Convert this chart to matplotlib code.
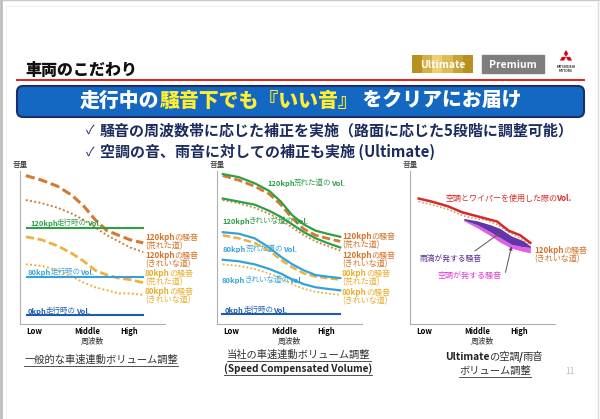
import numpy as np
import matplotlib
matplotlib.use("Agg")
import matplotlib.pyplot as plt
from matplotlib.patches import FancyBboxPatch, Rectangle, Polygon

JP = ["Noto Sans CJK JP", "DejaVu Sans"]
plt.rcParams["font.family"] = JP

# --- data (volume level 0-10 vs frequency 0-10) ---
freq = [0.4, 1.5, 2.6, 3.6, 4.4, 5.2, 6.0, 6.8, 7.6, 8.5]
freq_ticks = [0.95, 4.6, 7.55]
freq_labels = ["Low", "Middle", "High"]
flat_span = [0.5, 8.5]

# chart 1: generic speed-linked volume
c1_noise120_rough = [9.7, 9.4, 9.0, 8.4, 7.7, 6.8, 6.1, 5.8, 5.5, 5.3]
c1_noise120_clean = [8.1, 7.9, 7.6, 7.2, 6.8, 6.3, 5.8, 5.4, 5.0, 4.7]
c1_noise80_rough = [5.7, 5.5, 5.1, 4.6, 4.1, 3.5, 3.2, 3.0, 2.9, 2.7]
c1_noise80_clean = [3.9, 3.8, 3.5, 3.1, 2.7, 2.4, 2.2, 2.0, 2.0, 1.9]
c1_vol = {"120kph": 6.3, "80kph": 3.1, "0kph": 0.6}

# chart 2: speed compensated volume
c2_vol120_rough = [9.8, 9.6, 9.2, 8.7, 8.0, 7.1, 6.5, 6.1, 5.9, 5.7]
c2_noise120_rough = [9.7, 9.4, 9.0, 8.5, 7.8, 6.9, 6.2, 5.8, 5.6, 5.4]
c2_vol120_clean = [8.2, 8.0, 7.8, 7.4, 7.0, 6.5, 6.0, 5.6, 5.3, 5.0]
c2_noise120_clean = [8.1, 7.9, 7.6, 7.2, 6.8, 6.3, 5.8, 5.4, 5.1, 4.8]
c2_vol80_rough = [6.0, 5.9, 5.6, 5.0, 4.4, 3.9, 3.5, 3.2, 3.1, 3.0]
c2_noise80_rough = [5.8, 5.6, 5.3, 4.8, 4.2, 3.7, 3.3, 3.1, 3.0, 2.9]
c2_vol80_clean = [4.2, 4.1, 3.9, 3.6, 3.3, 2.9, 2.6, 2.4, 2.3, 2.2]
c2_noise80_clean = [3.9, 3.8, 3.6, 3.3, 3.0, 2.6, 2.3, 2.1, 2.0, 1.9]
c2_vol0 = 0.65

# chart 3: Ultimate A/C + rain
c3_freq = [0.6, 1.5, 2.6, 3.6, 4.4, 5.2, 6.0, 6.8, 7.6, 8.3]
c3_vol = [8.2, 8.0, 7.7, 7.3, 7.1, 6.9, 6.7, 6.1, 5.8, 5.3]
c3_noise120_clean = [8.0, 7.8, 7.5, 7.1, 6.9, 6.8, 6.5, 6.0, 5.6, 5.2]
band_freq = [3.7, 4.6, 5.5, 6.2, 7.0, 7.8, 8.3]
rain_top = [6.9, 6.75, 6.5, 6.25, 5.75, 5.45, 5.1]
rain_bottom = [6.8, 6.5, 6.05, 5.65, 5.2, 5.05, 5.0]
ac_bottom = [6.75, 6.3, 5.8, 5.35, 4.95, 4.75, 4.65]

ORANGE = "#d8782e"
ORANGE_T = "#d4742a"
GOLD = "#eeb23c"
GOLD_T = "#e8ae30"
GREEN = "#2f9e47"
LBLUE = "#33a2da"
DBLUE = "#1d5cab"
RED = "#d42a2a"
NAVY = "#1c2b5e"

W, H = 600, 419
fig = plt.figure(figsize=(6, 4.19), dpi=100)
fig.patch.set_facecolor("white")


def chart_axes(left):
    ax = fig.add_axes([left / W, (H - 324) / H, 145 / W, 153 / H])
    ax.set_xlim(0, 10)
    ax.set_ylim(0, 10)
    ax.patch.set_alpha(0)
    for s in ["top", "right"]:
        ax.spines[s].set_visible(False)
    for s in ["left", "bottom"]:
        ax.spines[s].set_color("#b0b0b0")
        ax.spines[s].set_linewidth(0.8)
    ax.set_yticks([])
    ax.set_xticks(freq_ticks)
    ax.set_xticklabels(freq_labels, fontsize=5.5, fontweight="bold")
    ax.tick_params(axis="x", length=0, pad=2.5)
    ax.set_xlabel("周波数", fontsize=5.6, labelpad=1, color="#333333")
    ax.text(0, 1.01, "音量", transform=ax.transAxes, ha="center", va="bottom",
            fontsize=5.5, color="#333333")
    return ax


ax1 = chart_axes(20)
ax1.plot(freq, c1_noise120_rough, color=ORANGE, lw=2.2, dashes=(3, 1.3))
ax1.plot(freq, c1_noise120_clean, color="#c9803e", lw=1.4, dashes=(1, 1.2))
ax1.plot(freq, c1_noise80_rough, color=GOLD, lw=2.0, dashes=(3, 1.3))
ax1.plot(freq, c1_noise80_clean, color=GOLD, lw=1.4, dashes=(1, 1.2))
for k, c in zip(c1_vol, [GREEN, LBLUE, DBLUE]):
    ax1.plot(flat_span, [c1_vol[k]] * 2, color=c, lw=1.5)

ax2 = chart_axes(217)
ax2.plot(freq, c2_noise120_rough, color=ORANGE, lw=2.0, dashes=(3, 1.3))
ax2.plot(freq, c2_vol120_rough, color=GREEN, lw=1.6)
ax2.plot(freq, c2_noise120_clean, color="#c9803e", lw=1.3, dashes=(1, 1.2))
ax2.plot(freq, c2_vol120_clean, color=GREEN, lw=1.6)
ax2.plot(freq, c2_noise80_rough, color=GOLD, lw=1.8, dashes=(3, 1.3))
ax2.plot(freq, c2_vol80_rough, color=LBLUE, lw=1.6)
ax2.plot(freq, c2_noise80_clean, color=GOLD, lw=1.3, dashes=(1, 1.2))
ax2.plot(freq, c2_vol80_clean, color=LBLUE, lw=1.6)
ax2.plot([0.35, 8.5], [c2_vol0] * 2, color=DBLUE, lw=1.5)

ax3 = chart_axes(410)
ax3.fill_between(band_freq, ac_bottom, rain_bottom, color="#e25ee6", lw=0)
ax3.fill_between(band_freq, rain_bottom, rain_top, color="#6236a8", lw=0)
ax3.plot(c3_freq, c3_noise120_clean, color="#d9a066", lw=1.2, dashes=(1, 1.2))
ax3.plot(c3_freq, c3_vol, color=RED, lw=1.8)
ax3.annotate("", xy=(band_freq[3], (rain_top[3] + rain_bottom[3]) / 2),
             xytext=(-25, -18), textcoords="offset pixels",
             arrowprops=dict(arrowstyle="-|>", color="#555555", lw=0.7,
                             mutation_scale=5, shrinkA=0, shrinkB=0))
ax3.annotate("", xy=(band_freq[4], (rain_bottom[4] + ac_bottom[4]) / 2),
             xytext=(-6, -26), textcoords="offset pixels",
             arrowprops=dict(arrowstyle="-|>", color="#555555", lw=0.7,
                             mutation_scale=5, shrinkA=0, shrinkB=0))

# overlay for all slide text and decorations (pixel coordinates)
lay = fig.add_axes([0, 0, 1, 1], zorder=5)
lay.set_xlim(0, W)
lay.set_ylim(H, 0)
lay.axis("off")
lay.patch.set_alpha(0)
renderer = fig.canvas.get_renderer()


def rich(x, y, parts, size, ha="left", underline=False, ucolor="#333333", kern=0.5):
    objs = []
    for s, c, w in parts:
        objs.append(lay.text(0, y, s, color=c, fontsize=size, fontweight=w,
                             va="center", ha="left"))
    widths = [t.get_window_extent(renderer).width for t in objs]
    widths = [wd - kern for wd in widths[:-1]] + widths[-1:]
    total = sum(widths)
    x0 = x - total / 2 if ha == "center" else x
    cur = x0
    for t, wd in zip(objs, widths):
        t.set_x(cur)
        cur += wd
    if underline:
        uy = y + size * 100 / 72 * 0.62
        lay.plot([x0, x0 + total], [uy, uy], color=ucolor, lw=0.6)


# slide frame
lay.plot([1, 1], [0, H], color="#bdbdbd", lw=2)
lay.plot([0, W], [0.5, 0.5], color="#c8c8c8", lw=1)
lay.plot([597.5, 597.5], [0, H], color="#dddddd", lw=1)
lay.plot([6, 6], [6, H], color="#eeeeee", lw=0.6)
lay.plot([6, 592], [6, 6], color="#eeeeee", lw=0.6)

# header
lay.text(25, 70, "車両のこだわり", fontsize=11.5, fontweight="heavy", va="center", color="#111111")
lay.plot([17, 584], [80, 80], color="#e0201a", lw=1.4)

# badges
grad = np.array([[0.0, 0.5, 1.0, 0.7, 0.3, 0.0]])
lay.imshow(grad, extent=(412, 473, 73, 55), aspect="auto", zorder=1,
           cmap=matplotlib.colors.LinearSegmentedColormap.from_list("g", ["#b8901f", "#ecd070"]))
lay.text(442.5, 64.5, "Ultimate", color="white", fontsize=7.5, fontweight="bold",
         ha="center", va="center", zorder=2)
lay.add_patch(Rectangle((482, 55), 62, 18, color="#7e7e7e", zorder=1))
lay.text(513, 64.5, "Premium", color="white", fontsize=7.5, fontweight="bold",
         ha="center", va="center", zorder=2)

# logo: three diamonds
cx, cy = 566, 57
for ang in [90, 210, 330]:
    a = np.deg2rad(ang)
    d = np.array([np.cos(a), -np.sin(a)])
    n = np.array([-d[1], d[0]])
    pts = [(cx, cy), (cx + d[0] * 3.5 + n[0] * 2.2, cy + d[1] * 3.5 + n[1] * 2.2),
           (cx + d[0] * 7, cy + d[1] * 7),
           (cx + d[0] * 3.5 - n[0] * 2.2, cy + d[1] * 3.5 - n[1] * 2.2)]
    lay.add_patch(Polygon(pts, closed=True, color="#e60012", lw=0))
lay.text(566, 67.5, "MITSUBISHI", fontsize=2.4, ha="center", va="center", fontweight="bold", color="#333333")
lay.text(566, 70.5, "MOTORS", fontsize=2.4, ha="center", va="center", fontweight="bold", color="#333333")

# banner
lay.add_patch(FancyBboxPatch((17, 86), 567, 31, boxstyle="round,pad=0,rounding_size=6",
                             facecolor="#1468c2", edgecolor="#1b2d6b", lw=1.5))
rich(301, 101, [("走行中の", "white", "heavy"), ("騒音下でも『いい音』", "#ffee33", "heavy"),
                (" をクリアにお届け", "white", "heavy")], 14.3, ha="center", kern=0)

# bullets
lay.text(86, 130, "✓", fontsize=9, color=NAVY, va="center", family=JP)
lay.text(100, 130, "騒音の周波数帯に応じた補正を実施（路面に応じた5段階に調整可能）",
         fontsize=10.8, fontweight="bold", color=NAVY, va="center")
lay.text(86, 152, "✓", fontsize=9, color=NAVY, va="center", family=JP)
lay.text(100, 152, "空調の音、雨音に対しての補正も実施 (Ultimate)",
         fontsize=10.8, fontweight="bold", color=NAVY, va="center")

# chart 1 labels
LS = 5.4
rich(30, 223, [("120kph", GREEN, "bold"), ("走行時の", GREEN, "normal"), ("Vol.", GREEN, "bold")], LS)
rich(28, 272, [("80kph", LBLUE, "bold"), ("走行時の", LBLUE, "normal"), ("Vol.", LBLUE, "bold")], LS)
rich(28, 311, [("0kph", DBLUE, "bold"), ("走行時の", DBLUE, "normal"), ("Vol.", DBLUE, "bold")], LS)

RS = 5.8
right_rows = [("120kph", ORANGE_T, "(荒れた道)"), ("120kph", ORANGE_T, "(きれいな道)"),
              ("80kph", GOLD_T, "(荒れた道)"), ("80kph", GOLD_T, "(きれいな道)")]
for xr, ys in [(145, [237, 255, 273, 291]), (342, [236, 255, 273, 292])]:
    for (sp, col, road), yy in zip(right_rows, ys):
        rich(xr, yy, [(sp, col, "bold"), ("の騒音", col, "normal")], RS)
        rich(xr, yy + 9, [(road, col, "normal")], RS)

# chart 2 labels
rich(267, 183, [("120kph", GREEN, "bold"), ("荒れた道の", GREEN, "normal"), ("Vol.", GREEN, "bold")], LS)
rich(222, 221, [("120kph", GREEN, "bold"), ("きれいな道の", GREEN, "normal"), ("Vol.", GREEN, "bold")], LS)
rich(223, 249, [("80kph", LBLUE, "bold"), ("荒れた道の", LBLUE, "normal"), ("Vol.", LBLUE, "bold")], LS)
rich(222, 280, [("80kph", LBLUE, "bold"), ("きれいな道の", LBLUE, "normal"), ("Vol.", LBLUE, "bold")], LS)
rich(225, 310, [("0kph", DBLUE, "bold"), ("走行時の", DBLUE, "normal"), ("Vol.", DBLUE, "bold")], LS)

# chart 3 labels
rich(445, 198, [("空調とワイパーを使用した際の", RED, "normal"), ("Vol.", RED, "bold")], 5.8)
rich(534, 250, [("120kph", ORANGE_T, "bold"), ("の騒音", ORANGE_T, "normal")], RS)
rich(534, 259, [("(きれいな道)", ORANGE_T, "normal")], RS)
rich(420, 259, [("雨滴が発する騒音", "#5a2d91", "normal")], 5.6)
rich(437, 275, [("空調が発する騒音", "#e040d0", "normal")], 5.8)

# captions
CS = 7.4
rich(101, 360, [("一般的な車速連動ボリューム調整", "#333333", "normal")], CS, ha="center", underline=True)
rich(299, 355, [("当社の車速連動ボリューム調整", "#333333", "normal")], CS, ha="center", underline=True)
rich(298, 369, [("(Speed Compensated Volume)", "#222222", "bold")], 7.2, ha="center", underline=True)
rich(494, 357, [("Ultimate", "#222222", "bold"), ("の空調", "#333333", "normal"),
                ("/", "#222222", "bold"), ("雨音", "#333333", "normal")], CS, ha="center", kern=0.3)
rich(495, 371, [("ボリューム調整", "#333333", "normal")], CS, ha="center", underline=True)
lay.text(570, 371, "11", fontsize=6, color="#bbbbbb", ha="center", va="center")

fig.savefig("out.png", dpi=100)
